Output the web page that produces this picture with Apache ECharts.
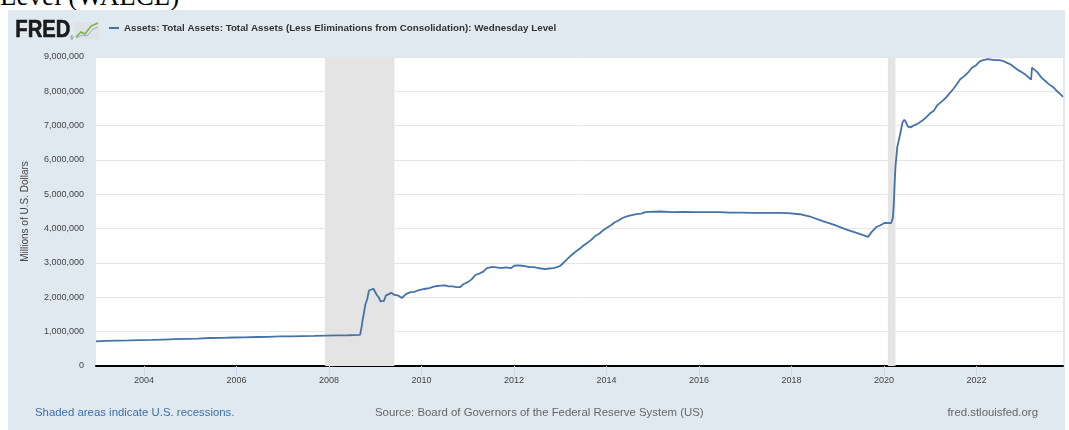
<!DOCTYPE html>
<html>
<head>
<meta charset="utf-8">
<script src="https://cdn.jsdelivr.net/npm/echarts@6/dist/echarts.min.js"></script>
<style>
  html, body { margin: 0; padding: 0; background: #fff; width: 1069px; height: 430px; overflow: hidden; }
  .page-title {
    position: absolute; left: 0; top: -17px;
    font-family: "Liberation Serif", "DejaVu Serif", serif; font-size: 27px; color: #000;
    white-space: nowrap; line-height: 27px;
  }
  #chart { position: absolute; left: 8px; top: 10px; width: 1057px; height: 420px; background: #e1e9f0; }
</style>
</head>
<body>
<div class="page-title">Level (WALCL)</div>
<div id="chart"></div>
<script>
/*eslint-disable*/
// WALCL, millions of U.S. dollars
const dates = [
  '2002-12-18', '2003-03-05', '2003-06-04', '2003-09-03', '2003-12-03',
  '2004-03-03', '2004-06-02', '2004-09-01', '2004-12-01',
  '2005-03-02', '2005-06-01', '2005-09-07', '2005-12-07',
  '2006-03-01', '2006-06-07', '2006-09-06', '2006-12-06',
  '2007-03-07', '2007-06-06', '2007-09-05', '2007-12-05',
  '2008-03-05', '2008-06-04', '2008-09-03', '2008-09-17', '2008-09-24',
  '2008-10-01', '2008-10-15', '2008-10-29', '2008-11-12', '2008-11-26',
  '2008-12-17', '2008-12-31', '2009-01-14', '2009-01-28', '2009-02-11',
  '2009-02-25', '2009-03-11', '2009-03-25', '2009-04-08', '2009-05-06',
  '2009-06-03', '2009-07-01', '2009-07-29', '2009-09-02', '2009-10-07',
  '2009-11-04', '2009-12-02',
  '2010-01-06', '2010-02-03', '2010-03-03', '2010-04-07', '2010-05-05', '2010-06-02',
  '2010-07-07', '2010-08-04', '2010-09-01', '2010-10-06', '2010-11-03', '2010-12-01',
  '2011-01-05', '2011-02-02', '2011-03-02', '2011-04-06', '2011-05-04', '2011-06-01',
  '2011-07-06', '2011-08-03', '2011-09-07', '2011-10-05', '2011-11-02', '2011-12-07',
  '2012-01-04', '2012-02-01', '2012-03-07', '2012-04-04', '2012-05-02', '2012-06-06',
  '2012-07-04', '2012-08-01', '2012-09-05', '2012-10-03', '2012-11-07', '2012-12-05',
  '2013-01-02', '2013-02-06', '2013-03-06', '2013-04-03', '2013-05-01', '2013-06-05',
  '2013-07-03', '2013-08-07', '2013-09-04', '2013-10-02', '2013-11-06', '2013-12-04',
  '2014-01-01', '2014-02-05', '2014-03-05', '2014-04-02', '2014-05-07', '2014-06-04',
  '2014-07-02', '2014-08-06', '2014-09-03', '2014-10-01', '2014-11-05', '2014-12-03',
  '2015-03-04', '2015-06-03', '2015-09-02', '2015-12-02',
  '2016-03-02', '2016-06-01', '2016-09-07', '2016-12-07',
  '2017-03-01', '2017-06-07', '2017-09-06', '2017-12-06',
  '2018-03-07', '2018-06-06', '2018-09-05', '2018-12-05',
  '2019-03-06', '2019-06-05', '2019-08-28', '2019-09-25', '2019-10-30', '2019-12-04',
  '2020-01-08', '2020-02-26', '2020-03-11', '2020-03-18', '2020-03-25', '2020-04-01',
  '2020-04-15', '2020-05-06', '2020-05-27', '2020-06-10', '2020-06-24', '2020-07-08',
  '2020-07-29', '2020-08-26', '2020-09-30', '2020-10-28', '2020-11-25', '2020-12-30',
  '2021-01-27', '2021-02-24', '2021-03-31', '2021-04-28', '2021-05-26', '2021-06-30',
  '2021-07-28', '2021-08-25', '2021-09-29', '2021-10-27', '2021-11-24', '2021-12-29',
  '2022-01-26', '2022-02-23', '2022-03-30', '2022-04-13', '2022-05-25', '2022-06-29',
  '2022-07-27', '2022-08-31', '2022-09-28', '2022-10-26', '2022-11-30', '2022-12-28',
  '2023-01-25', '2023-03-08', '2023-03-15', '2023-03-22', '2023-04-26', '2023-05-31',
  '2023-06-28', '2023-07-26', '2023-08-30', '2023-09-27', '2023-10-25', '2023-11-15'
];
const assets = [
  720000, 730000, 740000, 745000, 755000,
  760000, 770000, 780000, 790000,
  800000, 815000, 820000, 830000,
  835000, 845000, 850000, 860000,
  865000, 870000, 875000, 885000,
  890000, 895000, 905000, 1190000, 1370000,
  1500000, 1800000, 1950000, 2200000, 2150000,
  2250000, 2240000, 2060000, 2000000, 1880000,
  1900000, 1900000, 2050000, 2100000, 2130000,
  2070000, 2050000, 1980000, 2100000, 2150000,
  2160000, 2200000,
  2230000, 2250000, 2270000, 2310000, 2330000, 2340000,
  2350000, 2320000, 2320000, 2300000, 2300000, 2390000,
  2450000, 2530000, 2650000, 2700000, 2750000, 2850000,
  2880000, 2880000, 2860000, 2860000, 2870000, 2850000,
  2920000, 2930000, 2920000, 2900000, 2880000, 2880000,
  2860000, 2840000, 2820000, 2840000, 2850000, 2880000,
  2920000, 3050000, 3150000, 3240000, 3330000, 3420000,
  3510000, 3600000, 3680000, 3780000, 3860000, 3950000,
  4020000, 4100000, 4180000, 4230000, 4310000, 4350000,
  4380000, 4410000, 4430000, 4440000, 4480000, 4490000,
  4500000, 4480000, 4490000, 4480000,
  4480000, 4480000, 4470000, 4470000,
  4460000, 4460000, 4460000, 4450000,
  4420000, 4340000, 4220000, 4110000,
  3980000, 3870000, 3760000, 3900000, 4040000, 4100000,
  4170000, 4160000, 4310000, 4670000, 5300000, 5810000,
  6370000, 6720000, 7100000, 7170000, 7090000, 6970000,
  6950000, 7010000, 7070000, 7140000, 7230000, 7360000,
  7430000, 7590000, 7700000, 7790000, 7910000, 8060000,
  8200000, 8350000, 8450000, 8550000, 8680000, 8760000,
  8870000, 8910000, 8940000, 8960000, 8910000, 8910000,
  8890000, 8830000, 8780000, 8700000, 8610000, 8550000,
  8480000, 8340000, 8690000, 8730000, 8560000, 8390000,
  8300000, 8210000, 8120000, 8010000, 7920000, 7840000
];
// x-axis tick labels
const yearTicks = ['2004', '2006', '2008', '2010', '2012', '2014', '2016', '2018', '2020', '2022'];
// recession periods (shaded)
const recessionStarts = ['2007-12-01', '2020-02-01'];
const recessionEnds = ['2009-06-01', '2020-04-01'];

const seriesName = 'Assets: Total Assets: Total Assets (Less Eliminations from Consolidation): Wednesday Level';
const font = 'Liberation Sans';
const ts = (d) => Date.parse(d + 'T00:00:00Z');
const tickValues = yearTicks.map((y) => ts(y + '-01-01'));

const chart = echarts.init(document.getElementById('chart'), null, { renderer: 'canvas' });

const footerText = (text, pos, color) => ({
  type: 'text', top: 397, ...pos,
  style: { text: text, fontSize: 11.4, fontFamily: font, fill: color }
});

const option = {
  animation: false,
  textStyle: { fontFamily: font },
  grid: {
    left: 88, top: 47, width: 967, height: 309,
    show: true, backgroundColor: '#fff', borderWidth: 0
  },
  legend: {
    left: 101, top: 13,
    padding: 0,
    icon: 'rect',
    itemWidth: 10, itemHeight: 2, itemGap: 10,
    textStyle: { fontSize: 9.8, fontWeight: 'bold', color: '#333', fontFamily: font },
    data: [seriesName]
  },
  xAxis: {
    type: 'value',
    min: ts(dates[0]),
    max: ts(dates[dates.length - 1]),
    axisLine: { show: true, onZero: false, lineStyle: { color: '#000', width: 2 } },
    axisTick: { show: true, customValues: tickValues, length: 9, lineStyle: { color: '#ccd6eb' } },
    axisLabel: {
      customValues: tickValues,
      margin: 10, fontSize: 9, color: '#444',
      formatter: (v) => String(new Date(v).getUTCFullYear())
    },
    splitLine: { show: false }
  },
  yAxis: {
    type: 'value',
    min: 0, max: 9000000, interval: 1000000,
    name: 'Millions of U.S. Dollars',
    nameLocation: 'middle', nameGap: 66,
    nameTextStyle: { fontSize: 10, color: '#444' },
    axisLine: { show: false },
    axisTick: { show: false },
    axisLabel: {
      fontSize: 9, color: '#444', margin: 12,
      formatter: (v) => v.toLocaleString('en-US')
    },
    splitLine: { lineStyle: { color: '#e6e6e6', width: 1 } }
  },
  series: [{
    name: seriesName,
    type: 'line',
    symbol: 'none',
    lineStyle: { color: '#4572a7', width: 1.8 },
    itemStyle: { color: '#4572a7' },
    data: dates.map((d, i) => [ts(d), assets[i]]),
    markArea: {
      silent: true,
      itemStyle: { color: '#e4e4e4' },
      data: recessionStarts.map((s, i) => [{ xAxis: ts(s) }, { xAxis: ts(recessionEnds[i]) }])
    },
    z: 3
  }],
  graphic: [
    // FRED logo
    {
      type: 'text', left: 7, top: 9, scaleX: 0.88,
      style: { text: 'FRED', fontSize: 23, fontWeight: 'bold', fontFamily: font, fill: '#1a1a1a', stroke: '#1a1a1a', lineWidth: 0.6 }
    },
    {
      type: 'text', left: 62, top: 26,
      style: { text: '®', fontSize: 5, fontFamily: font, fill: '#555' }
    },
    {
      type: 'rect', shape: { x: 67, y: 12, width: 24, height: 17 },
      style: { fill: '#dfe3e6' }
    },
    {
      type: 'polyline', shape: { points: [[68, 27], [73, 22], [77, 24], [83, 16], [90, 13]] },
      style: { stroke: '#7cb342', lineWidth: 1.5, fill: null }
    },
    {
      type: 'polyline', shape: { points: [[68, 28], [74, 25], [79, 26], [85, 19], [90, 17]] },
      style: { stroke: '#8fb1d8', lineWidth: 1, fill: null }
    },
    // footer
    footerText('Shaded areas indicate U.S. recessions.', { left: 27 }, '#3a6fb0'),
    footerText('Source: Board of Governors of the Federal Reserve System (US)', { left: 367 }, '#666'),
    footerText('fred.stlouisfed.org', { right: 27 }, '#666')
  ]
};
chart.setOption(option);
</script>
</body>
</html>
